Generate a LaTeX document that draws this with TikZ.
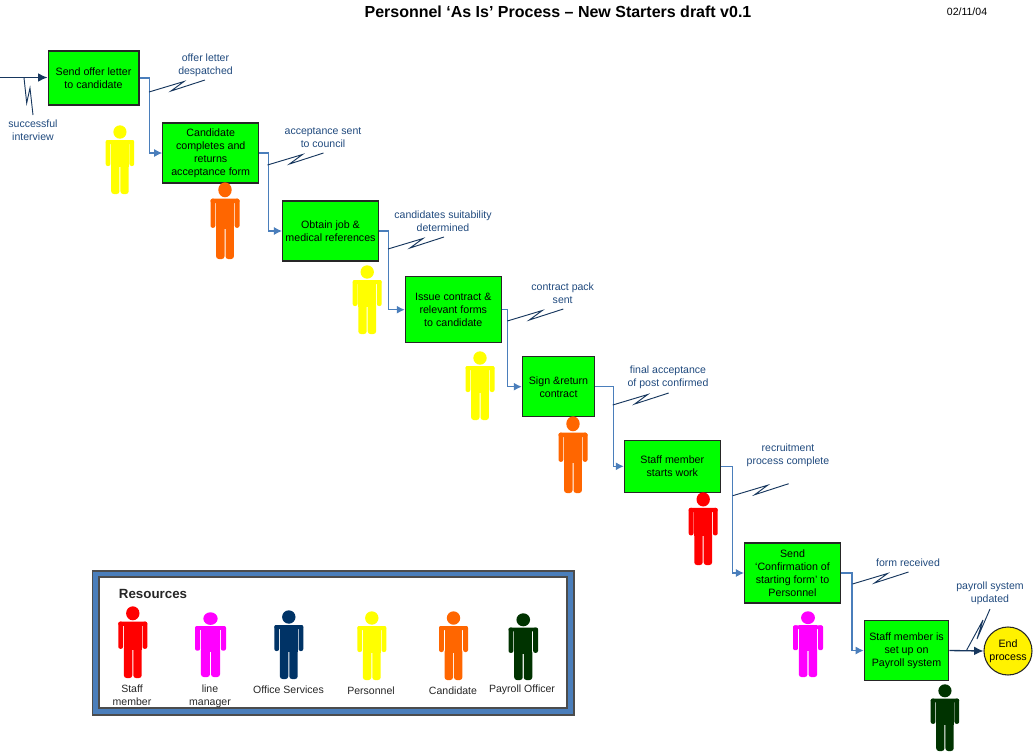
\documentclass[tikz,border=0pt]{standalone}
\usepackage{fontspec}
\setmainfont{Liberation Sans}
\usetikzlibrary{arrows.meta}

\definecolor{flowblue}{HTML}{4A7EBB}
\definecolor{noteblue}{HTML}{1F497D}
\definecolor{darkflow}{HTML}{17375E}
\definecolor{staffred}{HTML}{FF0000}
\definecolor{managerpink}{HTML}{FF00FF}
\definecolor{officenavy}{HTML}{003366}
\definecolor{personnelyellow}{HTML}{FFFF00}
\definecolor{candidateorange}{HTML}{FF6600}
\definecolor{payrollgreen}{HTML}{003300}

\tikzset{
  stagebox/.style={draw=black!85, line width=.8pt, fill=green, align=center, font=\fontsize{8}{9.75}\selectfont, inner sep=0pt},
  endbox/.style={circle, draw=black!85, line width=.8pt, fill=yellow, align=center, font=\fontsize{8}{9.75}\selectfont, inner sep=0pt, minimum size=36pt},
  note/.style={align=center, text=noteblue, font=\fontsize{7.9}{9.5}\selectfont, inner sep=0pt},
  legendtext/.style={align=center, text=black!85, font=\fontsize{7.9}{9.75}\selectfont, inner sep=0pt},
  flow/.style={draw=flowblue, line width=.85pt, -{Latex[length=6pt,width=6pt]}},
  mainflow/.style={draw=darkflow, line width=1pt, -{Latex[length=7pt,width=6.5pt]}},
  notice/.style={draw=darkflow, line width=.7pt}
}

% x, top, bottom, width, colour
\newcommand{\person}[5]{
  \begin{scope}[shift={(#1,#2)}, xscale=#4/29, yscale=(#3-#2)/69, #5]
    \fill (14.5,7) circle (6.7);
    \fill[rounded corners=1.5pt] (0,15) rectangle (29,19);
    \fill[rounded corners=1.5pt] (0,15) rectangle (4.8,41);
    \fill[rounded corners=1.5pt] (24.2,15) rectangle (29,41);
    \fill (5.6,15) rectangle (23.4,42);
    \fill[rounded corners=2pt] (5.6,38) rectangle (14,69);
    \fill[rounded corners=2pt] (15,38) rectangle (23.4,69);
  \end{scope}
}

% zigzag from a named coordinate
\newcommand{\zigzag}[1]{
  \draw[notice] (#1) -- ++(35,-10.5) -- ++(-13,9.5) -- ++(34,-11);
}

\begin{document}
\begin{tikzpicture}[x=.75pt, y=-.75pt]
\useasboundingbox (0,0) rectangle (1033,751);

% Title
\node[font=\bfseries\fontsize{12}{14}\selectfont, inner sep=0pt] (title) at (558,12) {Personnel ‘As Is’ Process – New Starters draft v0.1};
\node[font=\fontsize{7.9}{9}\selectfont, inner sep=0pt] (date) at (967,11.5) {02/11/04};

% Stages
\node[stagebox, minimum width=68.2pt, minimum height=40.5pt] (send) at (93.5,78) {Send offer letter\\to candidate};
\node[stagebox, minimum width=72pt, minimum height=45pt] (returns) at (210.7,153) {Candidate\\completes and\\returns\\acceptance form};
\node[stagebox, minimum width=72pt, minimum height=45pt] (references) at (330.5,231) {Obtain job \&\\medical references};
\node[stagebox, minimum width=72pt, minimum height=49.5pt] (issue) at (453.3,309.7) {Issue contract \&\\relevant forms\\to candidate};
\node[stagebox, minimum width=54.3pt, minimum height=45pt] (sign) at (558.5,386.7) {Sign \&return\\contract};
\node[stagebox, minimum width=72pt, minimum height=39pt] (starts) at (672.3,466.3) {Staff member\\starts work};
\node[stagebox, minimum width=72pt, minimum height=45pt] (confirm) at (792.5,573) {Send\\‘Confirmation of\\starting form’ to\\Personnel};
\node[stagebox, minimum width=63.5pt, minimum height=45pt] (payroll) at (906.5,650.5) {Staff member is\\set up on\\Payroll system};
\node[endbox] (finish) at (1008,651) {End\\process};

% Connectors
\coordinate (start) at (0,77.5);
\draw[mainflow] (start) -- (send.west |- start);
\draw[flow] (send.east) -- ++(10,0) |- (returns.west);
\draw[flow] (returns.east) -- ++(9,0) |- (references.west);
\draw[flow] (references.east) -- ++(9.5,0) |- (issue.west);
\draw[flow] (issue.east) -- ++(6,0) |- (sign.west);
\draw[flow] (sign.east) -- ++(18,0) |- (starts.west);
\draw[flow] (starts.east) -- ++(12,0) |- (confirm.west);
\draw[flow] (confirm.east) -- ++(11,0) |- (payroll.west);
\draw[mainflow] (payroll.east) -- (finish.west);

% Notes
\coordinate (zstart) at (24,77.7);
\coordinate (zsend) at (149,92);
\coordinate (zreturns) at (267.5,165);
\coordinate (zreferences) at (388,249);
\coordinate (zissue) at (507.3,321);
\coordinate (zsign) at (612.7,405);
\coordinate (zstarts) at (732.7,495.7);
\coordinate (zconfirm) at (852.5,584);
\coordinate (zpayroll) at (966.7,650);
\draw[notice] (zstart) -- ++(2.7,25.3) -- ++(3.3,-15) -- ++(3,27);
\zigzag{zsend}
\zigzag{zreturns}
\zigzag{zreferences}
\zigzag{zissue}
\zigzag{zsign}
\zigzag{zstarts}
\zigzag{zconfirm}
\draw[notice] (zpayroll) -- ++(16.3,-30) -- ++(-6,19) -- ++(13,-30);

\node[note] (nstart) at (33,130) {successful\\interview};
\node[note] (nsend) at (205.5,65.5) {offer letter\\despatched};
\node[note] (nreturns) at (323,137.5) {acceptance sent\\to council};
\node[note] (nreferences) at (443,221) {candidates suitability\\determined};
\node[note] (nissue) at (562.7,293) {contract pack\\sent};
\node[note] (nsign) at (668,377.5) {final acceptance\\of post confirmed};
\node[note] (nstarts) at (788,455.5) {recruitment\\process complete};
\node[note] (nconfirm) at (908,563) {form received};
\node[note] (npayroll) at (990,593.5) {payroll system\\updated};

% People
\person{105.7}{125}{194}{28.5}{personnelyellow}
\person{210.5}{182}{259}{29}{candidateorange}
\person{352.7}{265}{334}{29}{personnelyellow}
\person{465.5}{351}{420}{29}{personnelyellow}
\person{558.5}{416}{493}{29}{candidateorange}
\person{688.7}{492}{565}{29}{staffred}
\person{793}{611}{677}{30}{managerpink}
\person{930.7}{684}{751}{28.5}{payrollgreen}

% Resources
\draw[draw=black!70, line width=.8pt, fill=flowblue] (92.5,571) rectangle (574,715);
\draw[draw=black!70, line width=.8pt, fill=white] (99,577) rectangle (567,708);
\node[font=\bfseries\fontsize{10}{12}\selectfont, text=black!85, inner sep=0pt] (resources) at (153,593.5) {Resources};
\person{118.3}{606}{678}{29}{staffred}
\person{195}{612}{677}{31}{managerpink}
\person{274.3}{610}{679}{29}{officenavy}
\person{357.3}{611}{680}{29}{personnelyellow}
\person{439}{611}{680}{29}{candidateorange}
\person{508.5}{613}{680}{29.5}{payrollgreen}
\node[legendtext] (lstaff) at (132,695) {Staff\\member};
\node[legendtext] (lline) at (210,696) {line\\manager};
\node[legendtext] (loffice) at (288.5,690) {Office Services};
\node[legendtext] (lpersonnel) at (371,690.5) {Personnel};
\node[legendtext] (lcandidate) at (453,690.5) {Candidate};
\node[legendtext] (lpayroll) at (522,690) {Payroll Officer};
\end{tikzpicture}
\end{document}
